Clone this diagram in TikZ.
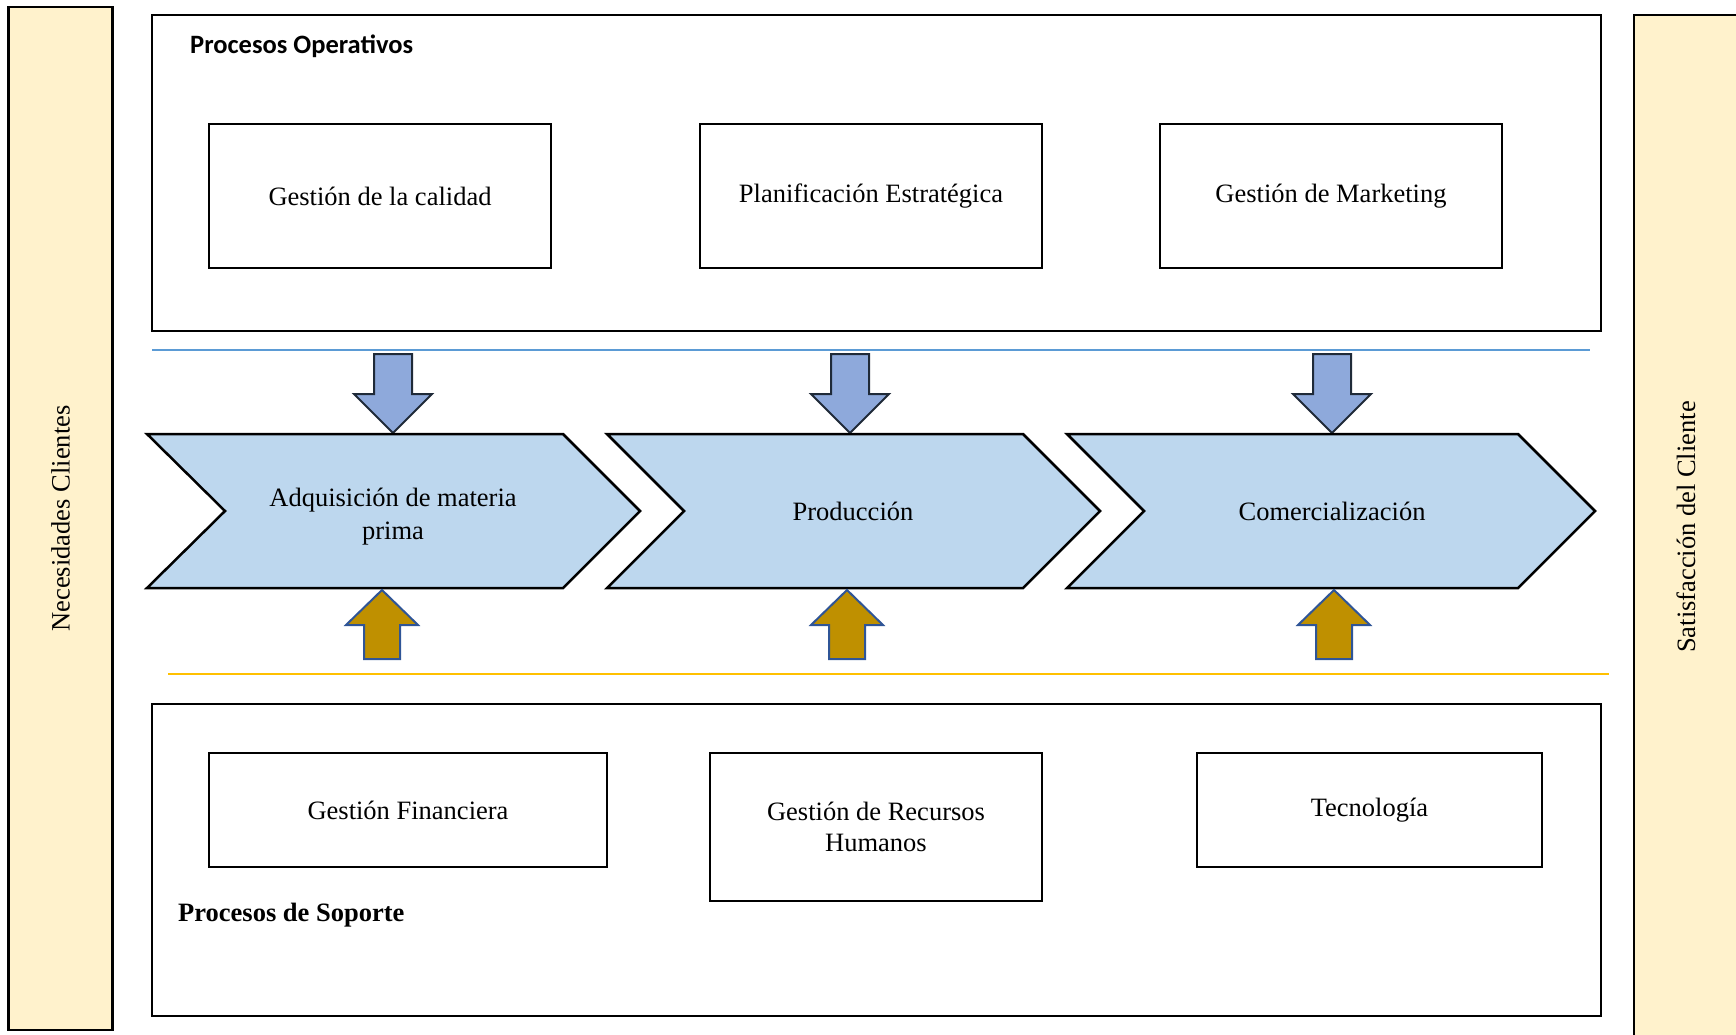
\documentclass[tikz,border=0pt]{standalone}
\usepackage{fontspec}
\setmainfont{Liberation Serif}
\newfontfamily\calibri{Carlito}
\usetikzlibrary{positioning}

\definecolor{barfill}{HTML}{FFF2CC}
\definecolor{chevfill}{HTML}{BDD7EE}
\definecolor{downfill}{HTML}{8EA9DB}
\definecolor{downline}{HTML}{1F2A38}
\definecolor{upfill}{HTML}{BF9000}
\definecolor{upline}{HTML}{2F5597}
\definecolor{bluesep}{HTML}{5B9BD5}
\definecolor{goldsep}{HTML}{FFC000}

\begin{document}
\begin{tikzpicture}[
    x=1pt, y=-1pt,
    every node/.style={font=\fontsize{26.5}{33}\selectfont},
    box/.style={rectangle, draw, line width=2.5pt, align=center},
    frame/.style={rectangle, draw, line width=2.5pt, minimum width=1449pt},
    side/.style={rectangle, draw, line width=2.5pt, fill=barfill, minimum height=104pt, rotate=90},
    chevron/.style={draw, line width=2.5pt, fill=chevfill, line join=miter},
    downarrow/.style={draw=downline, line width=2pt, fill=downfill, line join=miter},
    uparrow/.style={draw=upline, line width=2pt, fill=upfill, line join=miter},
    title/.style={anchor=west, inner sep=0pt}
]
\useasboundingbox (0,0) rectangle (1736,1034);

% Side bars
\node[side, minimum width=1023pt] (needs) at (60.5,518.5) {Necesidades Clientes};
\node[side, minimum width=1024pt] (satisf) at (1686,527) {Satisfacción del Cliente};

% Operative processes (Top)
\node[frame, minimum height=316pt] (opframe) at (876.5,173) {};
\node[title, font={\fontsize{26.5}{33}\selectfont\calibri\bfseries}] (optitle) at (190,46) {Procesos Operativos};
\node[box, minimum width=342pt, minimum height=144pt] (calidad) at (380,196) {Gestión de la calidad};
\node[box, minimum width=342pt, minimum height=144pt] (planif) at (871,196) {\raisebox{-2pt}{Planificación Estratégica}};
\node[box, minimum width=342pt, minimum height=144pt] (marketing) at (1331,196) {\raisebox{-2pt}{Gestión de Marketing}};

\draw[bluesep, line width=1.5pt] (152,350) -- (1590,350);

% Input arrows from operative processes
\draw[downarrow] (374,354) -- (412,354) -- (412,394) -- (432,394) -- (393,433) -- (354,394) -- (374,394) -- cycle;
\draw[downarrow] (831,354) -- (869,354) -- (869,394) -- (889,394) -- (850,433) -- (811,394) -- (831,394) -- cycle;
\draw[downarrow] (1313,354) -- (1351,354) -- (1351,394) -- (1371,394) -- (1332,433) -- (1293,394) -- (1313,394) -- cycle;

% Value chain
\draw[chevron] (147,434) -- (563,434) -- (640,511) -- (563,588) -- (147,588) -- (225,511) -- cycle;
\draw[chevron] (607,434) -- (1023,434) -- (1100,511) -- (1023,588) -- (607,588) -- (684,511) -- cycle;
\draw[chevron] (1067,434) -- (1518,434) -- (1595,511) -- (1518,588) -- (1067,588) -- (1144,511) -- cycle;
\node[align=center] (adquisicion) at (393,516.5) {Adquisición de materia\\prima};
\node (produccion) at (853,511) {Producción};
\node (comercial) at (1332,511) {Comercialización};

% Support arrows
\draw[uparrow] (382,590) -- (418,625) -- (400,625) -- (400,659) -- (364,659) -- (364,625) -- (346,625) -- cycle;
\draw[uparrow] (847,590) -- (883,625) -- (865,625) -- (865,659) -- (829,659) -- (829,625) -- (811,625) -- cycle;
\draw[uparrow] (1334,590) -- (1370,625) -- (1352,625) -- (1352,659) -- (1316,659) -- (1316,625) -- (1298,625) -- cycle;

\draw[goldsep, line width=1.5pt] (168,674) -- (1609,674);

% Support processes (Bottom)
\node[frame, minimum height=312pt] (supframe) at (876.5,860) {};
\node[box, minimum width=398pt, minimum height=114pt] (finanzas) at (408,810) {Gestión Financiera};
\node[box, minimum width=332pt, minimum height=148pt] (rrhh) at (876,827) {\raisebox{-2pt}{Gestión de Recursos}\\Humanos};
\node[box, minimum width=345pt, minimum height=114pt] (tecno) at (1369.5,810) {\raisebox{-3.5pt}{Tecnología}};
\node[title, font={\fontsize{26.5}{33}\selectfont\bfseries}] (suptitle) at (178,915) {Procesos de Soporte};

\end{tikzpicture}
\end{document}
